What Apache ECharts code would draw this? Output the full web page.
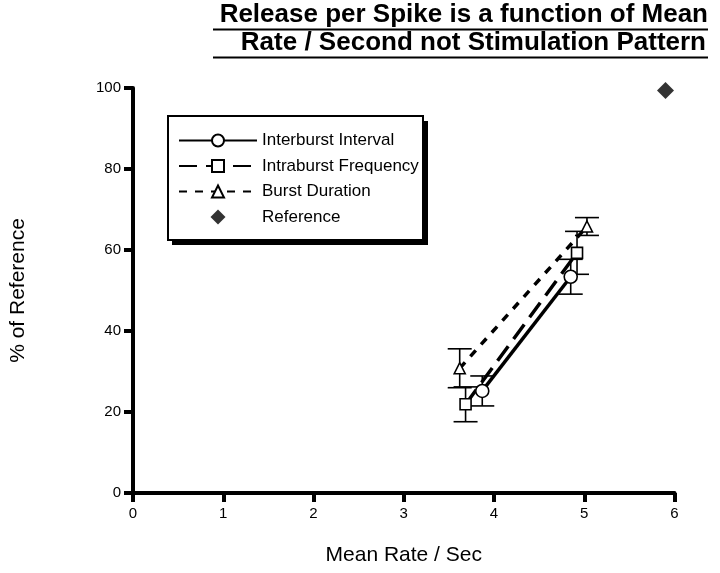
<!DOCTYPE html>
<html>
<head>
<meta charset="utf-8">
<script src="https://cdn.jsdelivr.net/npm/echarts@6/dist/echarts.min.js"></script>
<style>
  html, body { margin: 0; padding: 0; background: #fff; }
  #chart { width: 720px; height: 573px; }
</style>
</head>
<body>
<div id="chart"></div>
<script>
// values
var xTicks = [0, 1, 2, 3, 4, 5, 6];
var yTicks = [0, 20, 40, 60, 80, 100];

var interburstX = [3.87, 4.85];
var interburstY = [25.2, 53.4];
var interburstErr = [3.7, 4.3];

var intraburstX = [3.685, 4.92];
var intraburstY = [21.9, 59.3];
var intraburstErr = [4.3, 5.3];

var durationX = [3.62, 5.03];
var durationY = [30.8, 65.8];
var durationErr = [4.8, 2.2];

var referencePt = [5.9, 99.4];

var FONT = 'Liberation Sans';
var DIAMOND = 'path://M0,-1L1,0L0,1L-1,0Z';

function pairs(xs, ys) {
  return xs.map(function (x, i) { return [x, ys[i]]; });
}
function errData(xs, ys, es) {
  return xs.map(function (x, i) { return [x, ys[i] - es[i], ys[i] + es[i]]; });
}
// error bars drawn via the axis scales
function errRender(params, api) {
  var lo = api.coord([api.value(0), api.value(1)]);
  var hi = api.coord([api.value(0), api.value(2)]);
  var w = 12;
  var st = { stroke: '#000', lineWidth: 1.6 };
  return {
    type: 'group',
    children: [
      { type: 'line', shape: { x1: lo[0], y1: lo[1], x2: hi[0], y2: hi[1] }, style: st },
      { type: 'line', shape: { x1: lo[0] - w, y1: lo[1], x2: lo[0] + w, y2: lo[1] }, style: st },
      { type: 'line', shape: { x1: hi[0] - w, y1: hi[1], x2: hi[0] + w, y2: hi[1] }, style: st }
    ]
  };
}

var myChart = echarts.init(document.getElementById('chart'));

var option = {
  backgroundColor: '#fff',
  animation: false,
  textStyle: { fontFamily: FONT },
  grid: { left: 131.5, right: 45.5, top: 88, bottom: 80 },
  graphic: [
    // title + underlines
    { type: 'text', x: 708, y: 2, style: { text: 'Release per Spike is a function of Mean', font: 'bold 26px ' + FONT, fill: '#000', align: 'right' } },
    { type: 'text', x: 706, y: 30, style: { text: 'Rate / Second not Stimulation Pattern', font: 'bold 26px ' + FONT, fill: '#000', align: 'right' } },
    { type: 'line', shape: { x1: 213, y1: 29.5, x2: 708, y2: 29.5 }, style: { stroke: '#000', lineWidth: 2 } },
    { type: 'line', shape: { x1: 213, y1: 57.5, x2: 708, y2: 57.5 }, style: { stroke: '#000', lineWidth: 2 } },
    // legend box with drop shadow
    { type: 'rect', z: 2, shape: { x: 172, y: 121, width: 256, height: 124 }, style: { fill: '#000' } },
    { type: 'rect', z: 2, shape: { x: 168, y: 116, width: 255, height: 124 }, style: { fill: '#fff', stroke: '#000', lineWidth: 2 } }
  ],
  legend: {
    orient: 'vertical',
    left: 168,
    top: 116,
    padding: [16, 10, 14, 10],
    itemWidth: 78,
    itemHeight: 15,
    itemGap: 8.5,
    textStyle: { fontSize: 17, color: '#000', fontFamily: FONT },
    data: [
      { name: 'Interburst Interval' },
      { name: 'Intraburst Frequency' },
      { name: 'Burst Duration' },
      { name: 'Reference', icon: DIAMOND, itemStyle: { color: '#000' } }
    ]
  },
  xAxis: {
    type: 'value',
    min: 0, max: 6, interval: 1,
    name: 'Mean Rate / Sec',
    nameLocation: 'middle',
    nameGap: 52,
    nameTextStyle: { fontSize: 21, color: '#000', fontFamily: FONT },
    axisLine: { lineStyle: { color: '#000', width: 4 } },
    axisTick: { length: 9, lineStyle: { color: '#000', width: 4 } },
    axisLabel: { fontSize: 15, color: '#000', margin: 13 },
    splitLine: { show: false }
  },
  yAxis: {
    type: 'value',
    min: 0, max: 100, interval: 20,
    name: '% of Reference',
    nameLocation: 'middle',
    nameGap: 104,
    nameRotate: 90,
    nameTextStyle: { fontSize: 21, color: '#000', fontFamily: FONT },
    axisLine: { lineStyle: { color: '#000', width: 4 } },
    axisTick: { length: 9, lineStyle: { color: '#000', width: 4 } },
    axisLabel: { fontSize: 15, color: '#000', margin: 12 },
    splitLine: { show: false }
  },
  series: [
    { type: 'custom', name: 'errI', renderItem: errRender, data: errData(interburstX, interburstY, interburstErr), z: 1 },
    { type: 'custom', name: 'errF', renderItem: errRender, data: errData(intraburstX, intraburstY, intraburstErr), z: 1 },
    { type: 'custom', name: 'errD', renderItem: errRender, data: errData(durationX, durationY, durationErr), z: 1 },
    {
      name: 'Interburst Interval', type: 'line',
      data: pairs(interburstX, interburstY),
      symbol: 'circle', symbolSize: 13,
      itemStyle: { color: '#fff', borderColor: '#000', borderWidth: 1.6 },
      lineStyle: { color: '#000', width: 3.5, type: 'solid' },
      z: 3
    },
    {
      name: 'Intraburst Frequency', type: 'line',
      data: pairs(intraburstX, intraburstY),
      symbol: 'rect', symbolSize: 11,
      itemStyle: { color: '#fff', borderColor: '#000', borderWidth: 1.6 },
      lineStyle: { color: '#000', width: 3.5, type: [18, 9] },
      z: 3
    },
    {
      name: 'Burst Duration', type: 'line',
      data: pairs(durationX, durationY),
      symbol: 'triangle', symbolSize: 11,
      itemStyle: { color: '#fff', borderColor: '#000', borderWidth: 1.6 },
      lineStyle: { color: '#000', width: 3.5, type: [8, 8] },
      z: 3
    },
    {
      name: 'Reference', type: 'scatter',
      data: [referencePt],
      symbol: DIAMOND, symbolSize: 17,
      itemStyle: { color: '#000' },
      z: 3
    }
  ]
};

myChart.setOption(option);
</script>
</body>
</html>
